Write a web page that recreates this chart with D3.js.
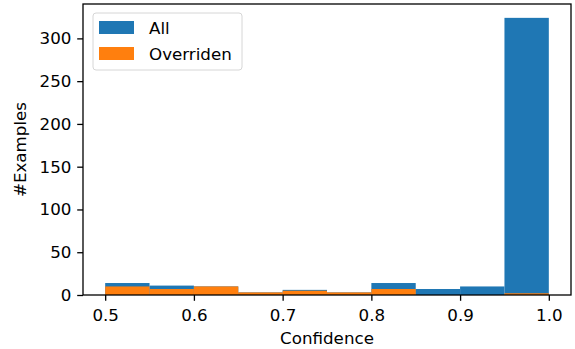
<!DOCTYPE html>
<html>
<head>
<meta charset="utf-8">
<script src="https://cdn.jsdelivr.net/npm/d3@7"></script>
<style>
  body { margin: 0; background: #fff; }
  svg { display: block; font-family: "DejaVu Sans", sans-serif; }
</style>
</head>
<body>
<div id="chart"></div>
<script>
// histogram bins (edges) and counts
var binEdges = [0.5, 0.55, 0.6, 0.65, 0.7, 0.75, 0.8, 0.85, 0.9, 0.95, 1.0];
var allCounts = [14, 11, 10, 3, 6, 3, 14, 7, 10, 324];
var overridenCounts = [10, 7, 10, 3, 5, 3, 7, 0, 0, 2];
var xTicks = [0.5, 0.6, 0.7, 0.8, 0.9, 1.0];
var yTicks = [0, 50, 100, 150, 200, 250, 300];
var seriesNames = ["All", "Overriden"];

var width = 575, height = 349;
var fontSize = "16.7px";
// axes box in pixels
var margin = { top: 4, right: 4, bottom: 54, left: 83 };
var innerW = width - margin.left - margin.right;
var innerH = height - margin.top - margin.bottom;

var color = d3.scaleOrdinal().domain(seriesNames).range(["#1f77b4", "#ff7f0e"]);

var x = d3.scaleLinear().domain([0.475, 1.025]).range([0, innerW]);
var y = d3.scaleLinear().domain([0, 340.2]).range([innerH, 0]);

var svg = d3.select("#chart")
  .append("svg")
  .attr("width", width)
  .attr("height", height)
  .append("g")
  .attr("transform", "translate(" + margin.left + "," + margin.top + ")");

// build bins for each series
function toBins(counts) {
  return counts.map(function(c, i) {
    return { x0: binEdges[i], x1: binEdges[i + 1], value: c };
  });
}
var series = [
  { name: "All", bins: toBins(allCounts) },
  { name: "Overriden", bins: toBins(overridenCounts) }
];

// overriden is drawn on top of all
svg.selectAll(".series")
  .data(series)
  .enter()
  .append("g")
  .attr("class", "series")
  .style("fill", function(d) { return color(d.name); })
  .selectAll("rect")
  .data(function(d) { return d.bins.filter(function(b) { return b.value > 0; }); })
  .enter()
  .append("rect")
  .attr("x", function(d) { return x(d.x0); })
  .attr("width", function(d) { return x(d.x1) - x(d.x0); })
  .attr("y", function(d) { return y(d.value); })
  .attr("height", function(d) { return y(0) - y(d.value); });

// axes
var xAxis = d3.axisBottom(x).tickValues(xTicks).tickFormat(d3.format(".1f")).tickSizeOuter(0).tickSize(5.8).tickPadding(8);
var yAxis = d3.axisLeft(y).tickValues(yTicks).tickSizeOuter(0).tickSize(5.8).tickPadding(5.8);

var gx = svg.append("g")
  .attr("transform", "translate(0," + innerH + ")")
  .call(xAxis);
var gy = svg.append("g").call(yAxis);

[gx, gy].forEach(function(g) {
  g.select(".domain").remove();
  g.selectAll("line").attr("stroke", "#000").attr("stroke-width", 1.3);
  g.selectAll("text")
    .attr("fill", "#000")
    .style("font-size", fontSize)
    .style("font-family", "DejaVu Sans, sans-serif");
});

// spines
svg.append("rect")
  .attr("x", 0)
  .attr("y", 0)
  .attr("width", innerW)
  .attr("height", innerH)
  .attr("fill", "none")
  .attr("stroke", "#000")
  .attr("stroke-width", 1.3);

// axis labels
svg.append("text")
  .attr("x", innerW / 2)
  .attr("y", innerH + 49)
  .attr("text-anchor", "middle")
  .style("font-size", fontSize)
  .text("Confidence");

svg.append("text")
  .attr("transform", "translate(" + (-57) + "," + (innerH / 2) + ") rotate(-90)")
  .attr("text-anchor", "middle")
  .style("font-size", fontSize)
  .text("#Examples");

// legend
var legend = svg.append("g").attr("transform", "translate(10,9)");
legend.append("rect")
  .attr("width", 149)
  .attr("height", 57)
  .attr("rx", 3)
  .attr("fill", "#fff")
  .attr("fill-opacity", 0.8)
  .attr("stroke", "#d6d6d6")
  .attr("stroke-width", 1);

var item = legend.selectAll(".item")
  .data(seriesNames)
  .enter()
  .append("g")
  .attr("class", "item")
  .attr("transform", function(d, i) { return "translate(6," + (8 + i * 26) + ")"; });

item.append("rect")
  .attr("width", 35)
  .attr("height", 13)
  .style("fill", color);

item.append("text")
  .attr("x", 50)
  .attr("y", 12.5)
  .style("font-size", fontSize)
  .text(function(d) { return d; });
</script>
</body>
</html>
